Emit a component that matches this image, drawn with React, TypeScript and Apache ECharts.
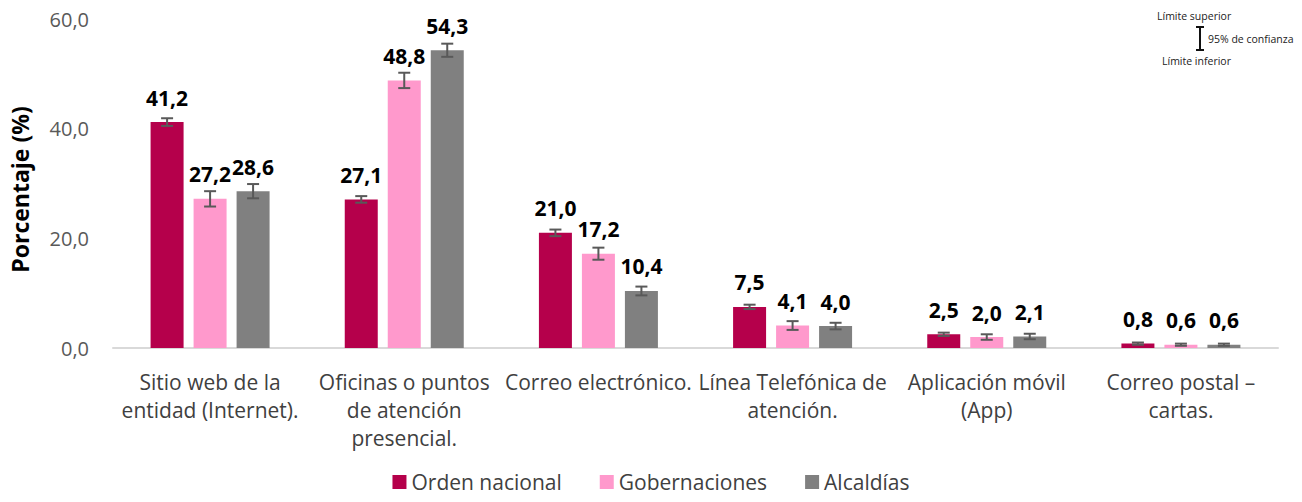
import React, { useEffect, useRef } from "react";
import * as echarts from "echarts";

const categories = [
  "Sitio web de la\nentidad (Internet).",
  "Oficinas o puntos\nde atención\npresencial.",
  "Correo electrónico.",
  "Línea Telefónica de\natención.",
  "Aplicación móvil\n(App)",
  "Correo postal –\ncartas.",
];
const seriesNames = ["Orden nacional", "Gobernaciones", "Alcaldías"];
const ordenNacional = [41.2, 27.1, 21.0, 7.5, 2.5, 0.8];
const gobernaciones = [27.2, 48.8, 17.2, 4.1, 2.0, 0.6];
const alcaldias = [28.6, 54.3, 10.4, 4.0, 2.1, 0.6];
// half-width of the 95% confidence interval
const errOrden = [0.7, 0.6, 0.6, 0.4, 0.3, 0.2];
const errGob = [1.4, 1.4, 1.1, 0.8, 0.5, 0.2];
const errAlc = [1.3, 1.2, 0.8, 0.6, 0.5, 0.2];
const colors = ["#B5004B", "#FF99CC", "#808080"];

const BAR_W = 33;
const BAR_GAP = 10;

const fmt = (v: number) => v.toFixed(1).replace(".", ",");

export default function App() {
  const ref = useRef<HTMLDivElement>(null);
  useEffect(() => {
    if (!ref.current) return;
    const chart = echarts.init(ref.current, undefined, { renderer: "svg" });
    const values = [ordenNacional, gobernaciones, alcaldias];
    const errs = [errOrden, errGob, errAlc];
    const font = "'Open Sans', 'Noto Sans', sans-serif";

    const barSeries = values.map((vals, si) => ({
      name: seriesNames[si],
      type: "bar",
      data: vals,
      barWidth: BAR_W,
      barGap: `${(BAR_GAP / BAR_W) * 100}%`,
      itemStyle: { color: colors[si] },
      label: {
        show: true,
        position: "top",
        distance: 14,
        formatter: (p: any) => fmt(p.value),
        fontFamily: font,
        fontWeight: "bold",
        fontSize: 21,
        color: "#000",
      },
      z: 2,
    }));

    const errData: any[] = [];
    values.forEach((vals, si) => {
      vals.forEach((v, ci) => {
        errData.push([ci, v - errs[si][ci], v + errs[si][ci], si]);
      });
    });

    const errSeries = {
      type: "custom",
      name: "err",
      data: errData,
      encode: { x: 0, y: [1, 2] },
      z: 5,
      renderItem: (params: any, api: any) => {
        const ci = api.value(0);
        const lo = api.value(1);
        const hi = api.value(2);
        const si = api.value(3);
        const offset = (si - 1) * (BAR_W + BAR_GAP);
        const pLo = api.coord([ci, lo]);
        const pHi = api.coord([ci, hi]);
        const x = pLo[0] + offset;
        const cap = 6;
        const style = { stroke: "#595959", lineWidth: 2 };
        return {
          type: "group",
          children: [
            { type: "line", shape: { x1: x, y1: pLo[1], x2: x, y2: pHi[1] }, style },
            { type: "line", shape: { x1: x - cap, y1: pLo[1], x2: x + cap, y2: pLo[1] }, style },
            { type: "line", shape: { x1: x - cap, y1: pHi[1], x2: x + cap, y2: pHi[1] }, style },
          ],
        };
      },
    };

    chart.setOption({
      animation: false,
      textStyle: { fontFamily: font },
      grid: { left: 108, right: 24, top: 19, bottom: 154 },
      legend: {
        top: 466,
        data: seriesNames,
        itemWidth: 14,
        itemHeight: 14,
        itemGap: 38,
        icon: "rect",
        textStyle: { fontSize: 21, lineHeight: 22, color: "#404040", fontFamily: font },
      },
      xAxis: {
        type: "category",
        data: categories,
        axisLine: { lineStyle: { color: "#D9D9D9", width: 2 } },
        axisTick: { show: false },
        axisLabel: {
          fontSize: 21,
          color: "#404040",
          lineHeight: 28,
          margin: 20,
          interval: 0,
          fontFamily: font,
        },
      },
      yAxis: {
        type: "value",
        min: 0,
        max: 60,
        interval: 20,
        name: "Porcentaje (%)",
        nameLocation: "middle",
        nameGap: 82,
        nameTextStyle: { fontSize: 23, fontWeight: "bold", color: "#000", fontFamily: font, padding: [0, 12, 0, 0] },
        axisLine: { show: false },
        axisTick: { show: false },
        splitLine: { show: false },
        axisLabel: {
          fontSize: 20,
          color: "#595959",
          margin: 24,
          formatter: (v: number) => fmt(v),
          fontFamily: font,
        },
      },
      graphic: [
        {
          type: "text",
          left: 1157,
          top: 10,
          style: { text: "Límite superior", fontSize: 10.5, fill: "#222", fontFamily: font },
        },
        {
          type: "line",
          shape: { x1: 1200, y1: 27, x2: 1200, y2: 50 },
          style: { stroke: "#111", lineWidth: 2 },
        },
        {
          type: "line",
          shape: { x1: 1196, y1: 27, x2: 1204, y2: 27 },
          style: { stroke: "#111", lineWidth: 2 },
        },
        {
          type: "line",
          shape: { x1: 1196, y1: 50, x2: 1204, y2: 50 },
          style: { stroke: "#111", lineWidth: 2 },
        },
        {
          type: "text",
          left: 1208,
          top: 33,
          style: { text: "95% de confianza", fontSize: 10.5, fill: "#222", fontFamily: font },
        },
        {
          type: "text",
          left: 1162,
          top: 55,
          style: { text: "Límite inferior", fontSize: 10.5, fill: "#222", fontFamily: font },
        },
      ],
      series: [...barSeries, errSeries],
    });
    return () => chart.dispose();
  }, []);
  return (
    <div
      ref={ref}
      style={{ position: "fixed", left: 0, top: 0, width: 1302, height: 502, background: "#fff" }}
    />
  );
}
